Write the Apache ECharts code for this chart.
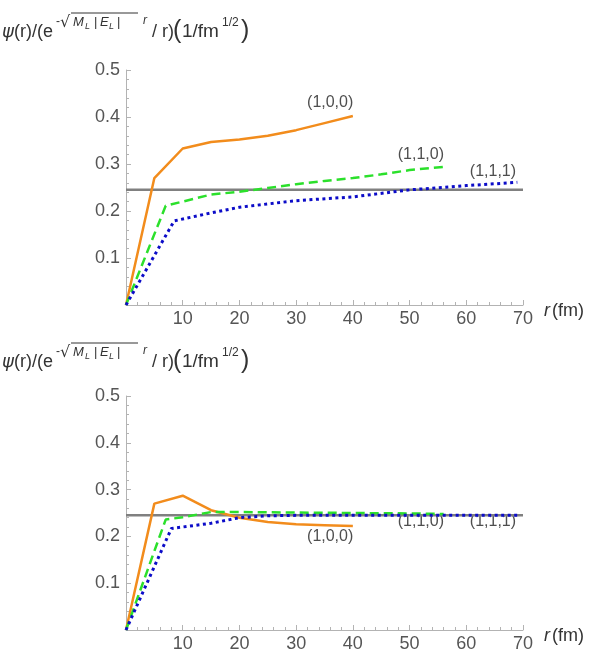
<!DOCTYPE html>
<html>
<head>
<meta charset="utf-8">
<script src="https://cdn.jsdelivr.net/npm/echarts@6/dist/echarts.min.js"></script>
<style>
  html, body { margin: 0; padding: 0; background: #fff; }
  #main { width: 591px; height: 659px; }
</style>
</head>
<body>
<div id="main"></div>
<script>
// top panel
var orangeTopX = [0, 5, 10, 15, 20, 25, 30, 35, 40];
var orangeTopY = [0, 0.27, 0.333, 0.347, 0.352, 0.36, 0.372, 0.387, 0.402];
var greenTopX = [0, 7, 15, 20, 25, 30, 35, 40, 45, 50, 56];
var greenTopY = [0, 0.211, 0.235, 0.241, 0.249, 0.257, 0.264, 0.27, 0.278, 0.287, 0.294];
var blueTopX = [0, 8.5, 15, 20, 30, 40, 50, 60, 69];
var blueTopY = [0, 0.179, 0.196, 0.208, 0.222, 0.23, 0.245, 0.254, 0.261];

// bottom panel
var orangeBotX = [0, 5, 10, 15, 20, 25, 30, 35, 40];
var orangeBotY = [0, 0.27, 0.287, 0.256, 0.24, 0.231, 0.226, 0.224, 0.222];
var greenBotX = [0, 7, 10, 15, 20, 30, 40, 50, 56];
var greenBotY = [0, 0.236, 0.241, 0.252, 0.252, 0.251, 0.25, 0.249, 0.248];
var blueBotX = [0, 8, 15, 20, 25, 30, 40, 50, 60, 69];
var blueBotY = [0, 0.217, 0.228, 0.24, 0.244, 0.245, 0.245, 0.245, 0.245, 0.245];

// reference level (gray line)
var refLevel = 0.245;
var refX = [0, 70];

var labelNames = ['(1,0,0)', '(1,1,0)', '(1,1,1)'];
var labelTopX = [36, 52, 64.7];
var labelTopY = [0.43, 0.319, 0.283];
var labelBotX = [36, 52, 64.7];
var labelBotY = [0.199, 0.231, 0.231];

var xTicks = [10, 20, 30, 40, 50, 60, 70];

function pairs(xs, ys) {
  return xs.map(function (x, i) { return [x, ys[i]]; });
}

var chart = echarts.init(document.getElementById('main'));

var axisGray = '#b3b3b3';

function xAxisFor(gi) {
  return {
    gridIndex: gi,
    type: 'value',
    min: 0,
    max: 70,
    interval: 10,
    axisLine: { lineStyle: { color: axisGray, width: 1 } },
    axisTick: { inside: true, length: 5, lineStyle: { color: axisGray } },
    minorTick: { show: true, splitNumber: 5, length: 3, lineStyle: { color: axisGray } },
    splitLine: { show: false },
    axisLabel: {
      color: '#555', fontSize: 18, fontFamily: 'Liberation Sans', margin: 5,
      formatter: function (v) { return xTicks.indexOf(v) >= 0 ? String(v) : ''; }
    }
  };
}

function yAxisFor(gi) {
  return {
    gridIndex: gi,
    type: 'value',
    min: 0,
    max: 0.5,
    interval: 0.1,
    axisLine: { onZero: false, lineStyle: { color: axisGray, width: 1 } },
    axisTick: { inside: true, length: 5, lineStyle: { color: axisGray } },
    minorTick: { show: true, splitNumber: 5, length: 3, lineStyle: { color: axisGray } },
    splitLine: { show: false },
    axisLabel: {
      color: '#555', fontSize: 18, fontFamily: 'Liberation Sans', margin: 6,
      formatter: function (v) { return v < 0.05 ? '' : v.toFixed(1); }
    }
  };
}

function panelSeries(gi, ox, oy, gx, gy, bx, by, lx, ly) {
  return [
    {
      type: 'line', xAxisIndex: gi, yAxisIndex: gi, showSymbol: false, silent: true,
      lineStyle: { color: '#808080', width: 2.5 },
      data: pairs(refX, [refLevel, refLevel])
    },
    {
      type: 'line', xAxisIndex: gi, yAxisIndex: gi, showSymbol: false,
      lineStyle: { color: '#f28c1c', width: 2.5 },
      data: pairs(ox, oy)
    },
    {
      type: 'line', xAxisIndex: gi, yAxisIndex: gi, showSymbol: false,
      lineStyle: { color: '#2be02b', width: 2.5, type: [9, 5] },
      data: pairs(gx, gy)
    },
    {
      type: 'line', xAxisIndex: gi, yAxisIndex: gi, showSymbol: false,
      lineStyle: { color: '#0c0cc8', width: 3, type: [3, 3.5] },
      data: pairs(bx, by)
    },
    {
      type: 'scatter', xAxisIndex: gi, yAxisIndex: gi, symbolSize: 0, silent: true,
      label: {
        show: true, position: 'inside', color: '#222', fontSize: 16,
        fontFamily: 'Liberation Sans',
        formatter: function (p) { return p.data.name; }
      },
      data: lx.map(function (x, i) { return { name: labelNames[i], value: [x, ly[i]] }; })
    }
  ];
}

// y-axis title built from text pieces (sup/sub via positions)
function txt(x, y, s, font) {
  return {
    type: 'text', x: x, y: y, silent: true,
    style: { text: s, fill: '#333', font: font, align: 'left', verticalAlign: 'middle' }
  };
}

function titleGraphic(top) {
  var f = '"Liberation Sans"';
  return [
    txt(2, top + 32, 'ψ', 'italic 18px "DejaVu Sans"'),
    txt(14, top + 32, '(r)/(e', '18px ' + f),
    txt(56, top + 22, '-', '12px ' + f),
    txt(60, top + 23, '√', '16px "DejaVu Sans"'),
    { type: 'line', silent: true, shape: { x1: 71, y1: top + 13, x2: 138, y2: top + 13 }, style: { stroke: '#333', lineWidth: 1 } },
    txt(73, top + 22, 'M', 'italic 13px ' + f),
    txt(85, top + 26, 'L', 'italic 9px ' + f),
    txt(94, top + 22, '|', '13px ' + f),
    txt(100, top + 22, 'E', 'italic 13px ' + f),
    txt(109, top + 26, 'L', 'italic 9px ' + f),
    txt(117, top + 22, '|', '13px ' + f),
    txt(143, top + 21, 'r', 'italic 12px ' + f),
    txt(152, top + 32, '/ r)', '18px ' + f),
    txt(173, top + 31, '(', '25px ' + f),
    txt(182, top + 32, '1/fm', '19px ' + f),
    txt(222, top + 23, '1/2', '12px ' + f),
    txt(241, top + 31, ')', '25px ' + f)
  ];
}

function rLabel(y) {
  return [
    txt(544, y, 'r', 'italic 18px "Liberation Sans"'),
    txt(552, y, '(fm)', '18px "Liberation Sans"')
  ];
}

var option = {
  animation: false,
  backgroundColor: '#fff',
  grid: [
    { left: 126, right: 68, top: 70, height: 235 },
    { left: 126, right: 68, top: 396, height: 234 }
  ],
  xAxis: [xAxisFor(0), xAxisFor(1)],
  yAxis: [yAxisFor(0), yAxisFor(1)],
  graphic: titleGraphic(0).concat(titleGraphic(330)).concat(rLabel(311)).concat(rLabel(636)),
  series: panelSeries(0, orangeTopX, orangeTopY, greenTopX, greenTopY, blueTopX, blueTopY, labelTopX, labelTopY)
    .concat(panelSeries(1, orangeBotX, orangeBotY, greenBotX, greenBotY, blueBotX, blueBotY, labelBotX, labelBotY))
};

chart.setOption(option);
</script>
</body>
</html>
